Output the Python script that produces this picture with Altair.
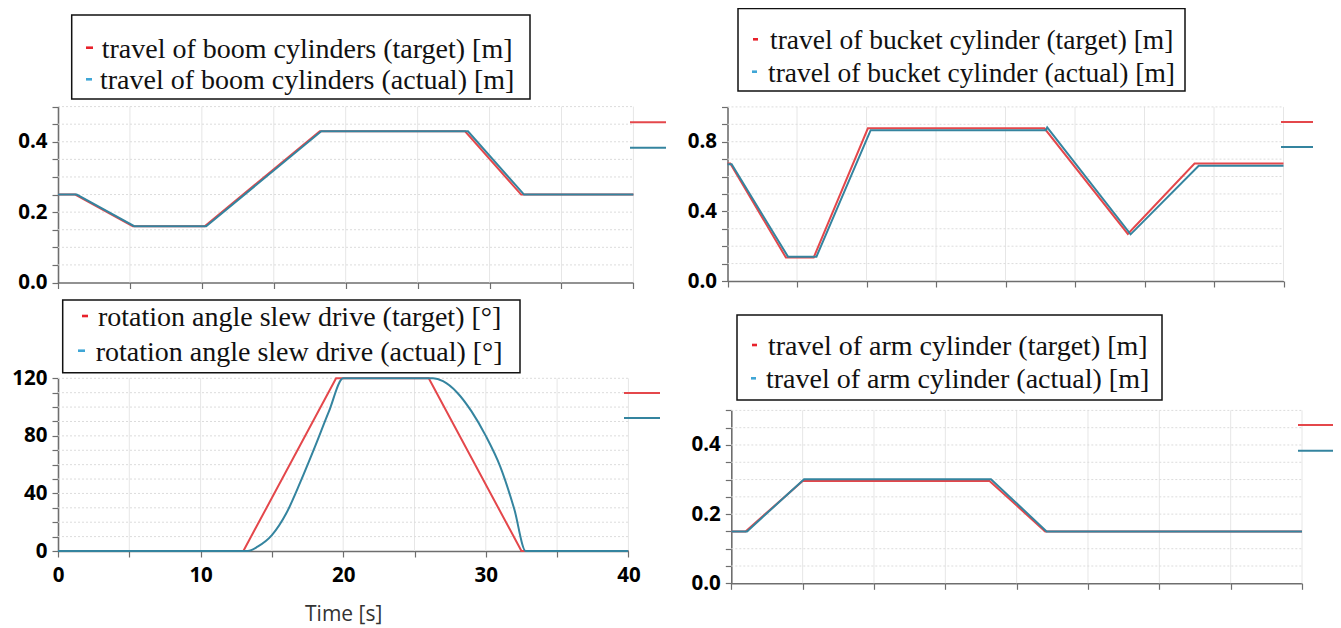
import altair as alt
import pandas as pd

# ---------------- data ----------------
TIME_TICKS = [0, 5, 10, 15, 20, 25, 30, 35, 40]

# travel of boom cylinders [m]
boom_t_target = [0, 1.2, 5.2, 10.2, 18.2, 28.3, 32.2, 40]
boom_v_target = [0.25, 0.25, 0.16, 0.16, 0.43, 0.43, 0.25, 0.25]
boom_t_actual = [0, 1.3, 5.3, 10.3, 18.3, 28.5, 32.4, 40]
boom_v_actual = [0.25, 0.25, 0.16, 0.16, 0.43, 0.43, 0.25, 0.25]
boom_grid = [0, 0.05, 0.1, 0.15, 0.2, 0.25, 0.3, 0.35, 0.4, 0.45, 0.5]

# travel of bucket cylinder [m]
bucket_t_target = [0, 0.2, 4.2, 6.2, 10.1, 22.8, 28.8, 33.6, 40]
bucket_v_target = [0.675, 0.675, 0.135, 0.135, 0.877, 0.877, 0.27, 0.675, 0.675]
bucket_t_actual = [0, 0.3, 4.35, 6.4, 10.3, 22.9, 23.0, 29.0, 33.9, 40]
bucket_v_actual = [0.67, 0.67, 0.14, 0.14, 0.866, 0.866, 0.882, 0.268, 0.662, 0.662]
bucket_grid = [0, 0.1, 0.2, 0.3, 0.4, 0.5, 0.6, 0.7, 0.8, 0.9, 1.0]

# rotation angle slew drive [deg]
slew_t_target = [0, 13.0, 19.5, 26.0, 32.5, 40]
slew_v_target = [0, 0, 120, 120, 0, 0]
slew_t_actual = [0, 13.3, 14, 15, 16, 17, 18, 19, 20, 26.3, 27, 28, 29, 30, 31, 32, 32.8, 40]
slew_v_actual = [0, 0, 3, 11, 26, 48, 72, 97, 120, 120, 118, 110, 97, 80, 59, 29, 0, 0]
slew_grid = [0, 10, 20, 30, 40, 50, 60, 70, 80, 90, 100, 110, 120]

# travel of arm cylinder [m]
arm_t_target = [0, 1.0, 5.0, 18.1, 22.0, 40]
arm_v_target = [0.15, 0.15, 0.296, 0.296, 0.15, 0.15]
arm_t_actual = [0, 1.1, 5.1, 18.2, 22.1, 40]
arm_v_actual = [0.15, 0.15, 0.301, 0.301, 0.15, 0.15]
arm_grid = [0, 0.05, 0.1, 0.15, 0.2, 0.25, 0.3, 0.35, 0.4, 0.45, 0.5]

legend_boom = ["travel of boom cylinders (target) [m]", "travel of boom cylinders (actual) [m]"]
legend_bucket = ["travel of bucket cylinder (target) [m]", "travel of bucket cylinder (actual) [m]"]
legend_slew = ["rotation angle slew drive (target) [°]", "rotation angle slew drive (actual) [°]"]
legend_arm = ["travel of arm cylinder (target) [m]", "travel of arm cylinder (actual) [m]"]

# ---------------- style ----------------
W, H = 1325, 620
RED = "#e4474b"
TEAL = "#34849f"
LEG_RED = "#e8212b"
LEG_BLUE = "#3fa6d6"
AX = "#6e6e6e"
GRID_H = "#dcdcdc"
GRID_V = "#e6e6e6"
TICK_FONT = "Open Sans"
SERIF = "Liberation Serif"

dummy = pd.DataFrame({"a": [0]})


def panel(tt, vt, ta, va, grid, ymax, xr, yr, label_step, label_fmt, xlabels, smooth=False):
    xs = alt.Scale(domain=[0, 40], range=xr, nice=False, zero=False)
    ys = alt.Scale(domain=[0, ymax], range=yr, nice=False, zero=False)
    xkw = dict(
        orient="bottom", offset=yr[0] - H, values=TIME_TICKS, grid=False,
        tickSize=6, tickColor=AX, tickWidth=1.2, domainColor=AX, domainWidth=1.6,
        labelFlush=False, labelOverlap=False, title=None,
    )
    if xlabels:
        xkw.update(
            labels=True,
            labelExpr="datum.value % 10 == 0 ? format(datum.value, 'd') : ''",
            labelFont=TICK_FONT, labelFontSize=20.5, labelFontWeight="bold",
            labelColor="black", labelPadding=8,
            title="Time [s]", titleFont=TICK_FONT, titleFontSize=21,
            titleFontWeight="normal", titleColor="#333333", titlePadding=18,
        )
    else:
        xkw.update(labels=False)
    xaxis = alt.Axis(**xkw)
    yaxis = alt.Axis(
        orient="left", offset=-xr[0], values=grid, grid=False,
        tickSize=6, tickColor=AX, tickWidth=1.2, domainColor=AX, domainWidth=1.6,
        labelExpr=(
            f"abs(datum.value/{label_step} - round(datum.value/{label_step})) < 0.001"
            f" ? format(datum.value, '{label_fmt}') : ''"
        ),
        labelFont=TICK_FONT, labelFontSize=20.5, labelFontWeight="bold",
        labelColor="black", labelPadding=5, labelOverlap=False, labelFlush=False,
        title=None,
    )
    hgrid = (
        alt.Chart(pd.DataFrame({"g": grid[1:]}))
        .transform_calculate(lo="0", hi="40")
        .mark_rule(color=GRID_H, strokeWidth=1, strokeDash=[2, 2])
        .encode(
            x=alt.X("lo:Q", scale=xs, axis=xaxis),
            x2="hi:Q",
            y=alt.Y("g:Q", scale=ys, axis=yaxis),
        )
    )
    vgrid = (
        alt.Chart(pd.DataFrame({"g": TIME_TICKS[1:]}))
        .transform_calculate(lo="0", hi=str(ymax))
        .mark_rule(color=GRID_V, strokeWidth=1)
        .encode(
            x=alt.X("g:Q", scale=xs, axis=xaxis),
            y=alt.Y("lo:Q", scale=ys, axis=yaxis),
            y2="hi:Q",
        )
    )
    line_t = (
        alt.Chart(pd.DataFrame({"t": tt, "v": vt}))
        .mark_line(color=RED, strokeWidth=2)
        .encode(x=alt.X("t:Q", scale=xs, axis=xaxis), y=alt.Y("v:Q", scale=ys, axis=yaxis))
    )
    act_mark = dict(color=TEAL, strokeWidth=2)
    if smooth:
        act_mark["interpolate"] = "monotone"
    line_a = (
        alt.Chart(pd.DataFrame({"t": ta, "v": va}))
        .mark_line(**act_mark)
        .encode(x=alt.X("t:Q", scale=xs, axis=xaxis), y=alt.Y("v:Q", scale=ys, axis=yaxis))
    )
    return alt.layer(vgrid, hgrid, line_t, line_a)


def rule(x1, x2, y, color, width):
    return alt.Chart(dummy).mark_rule(color=color, strokeWidth=width).encode(
        x=alt.value(x1), x2=alt.value(x2), y=alt.value(y)
    )


def box(x1, x2, y1, y2):
    return alt.Chart(dummy).mark_rect(fill="white", stroke="#111111", strokeWidth=1.5).encode(
        x=alt.value(x1), x2=alt.value(x2), y=alt.value(y1), y2=alt.value(y2)
    )


def text(s, x, y, size=28):
    return alt.Chart(dummy).mark_text(
        text=s, font=SERIF, fontSize=size, align="left", baseline="alphabetic", color="#111111"
    ).encode(x=alt.value(x), y=alt.value(y))


def legend_box(labels, bx, by, lines, size=28):
    layers = [box(*bx, *by)]
    colors = [LEG_RED, LEG_BLUE]
    for (dx1, dx2, tx, base), lab, c in zip(lines, labels, colors):
        layers.append(rule(dx1, dx2, base - 10, c, 2.6))
        layers.append(text(lab, tx, base, size))
    return layers


p_tl = panel(boom_t_target, boom_v_target, boom_t_actual, boom_v_actual, boom_grid, 0.5,
             [50, 625.4], [274.5, 98.6], 0.2, ".1f", False)
p_tr = panel(bucket_t_target, bucket_v_target, bucket_t_actual, bucket_v_actual, bucket_grid, 1.0,
             [719.5, 1275.5], [273, 98.9], 0.4, ".1f", False)
p_bl = panel(slew_t_target, slew_v_target, slew_t_actual, slew_v_actual, slew_grid, 120,
             [50, 620.4], [543, 370.3], 40, "d", True, smooth=True)
p_br = panel(arm_t_target, arm_v_target, arm_t_actual, arm_v_actual, arm_grid, 0.5,
             [723.3, 1294], [575.3, 402.4], 0.2, ".1f", False)

minis = [
    rule(622, 658, 114.3, RED, 2), rule(622, 658, 139.7, TEAL, 2),
    rule(1273, 1305, 114, RED, 2), rule(1273, 1305, 139, TEAL, 2),
    rule(616, 652, 385, RED, 2), rule(616, 652, 410, TEAL, 2),
    rule(1290, 1328, 417, RED, 2), rule(1290, 1328, 442.7, TEAL, 2),
]

boxes = []
boxes += legend_box(legend_boom, (63.7, 522), (7, 91),
                    [(78, 85, 93.7, 49.7), (78, 84, 92, 81.3)])
boxes += legend_box(legend_bucket, (730, 1177), (0.5, 83),
                    [(745, 750, 762, 41.3), (744, 749, 760, 73.7)], 27.5)
boxes += legend_box(legend_slew, (54.7, 512), (292, 364.7),
                    [(74, 80, 90, 318), (70, 77, 87.7, 352.7)])
boxes += legend_box(legend_arm, (729, 1154), (307, 392),
                    [(744, 749, 760, 347), (743, 748, 758, 380.3)])

chart = (
    alt.layer(p_tl, p_tr, p_bl, p_br, *minis, *boxes)
    .resolve_scale(x="independent", y="independent")
    .properties(width=W, height=H, padding=0, autosize=alt.AutoSizeParams(type="none"),
                background="white")
    .configure_view(strokeWidth=0)
)

chart.save("out.html", embed_options={"renderer": "svg", "actions": False})
